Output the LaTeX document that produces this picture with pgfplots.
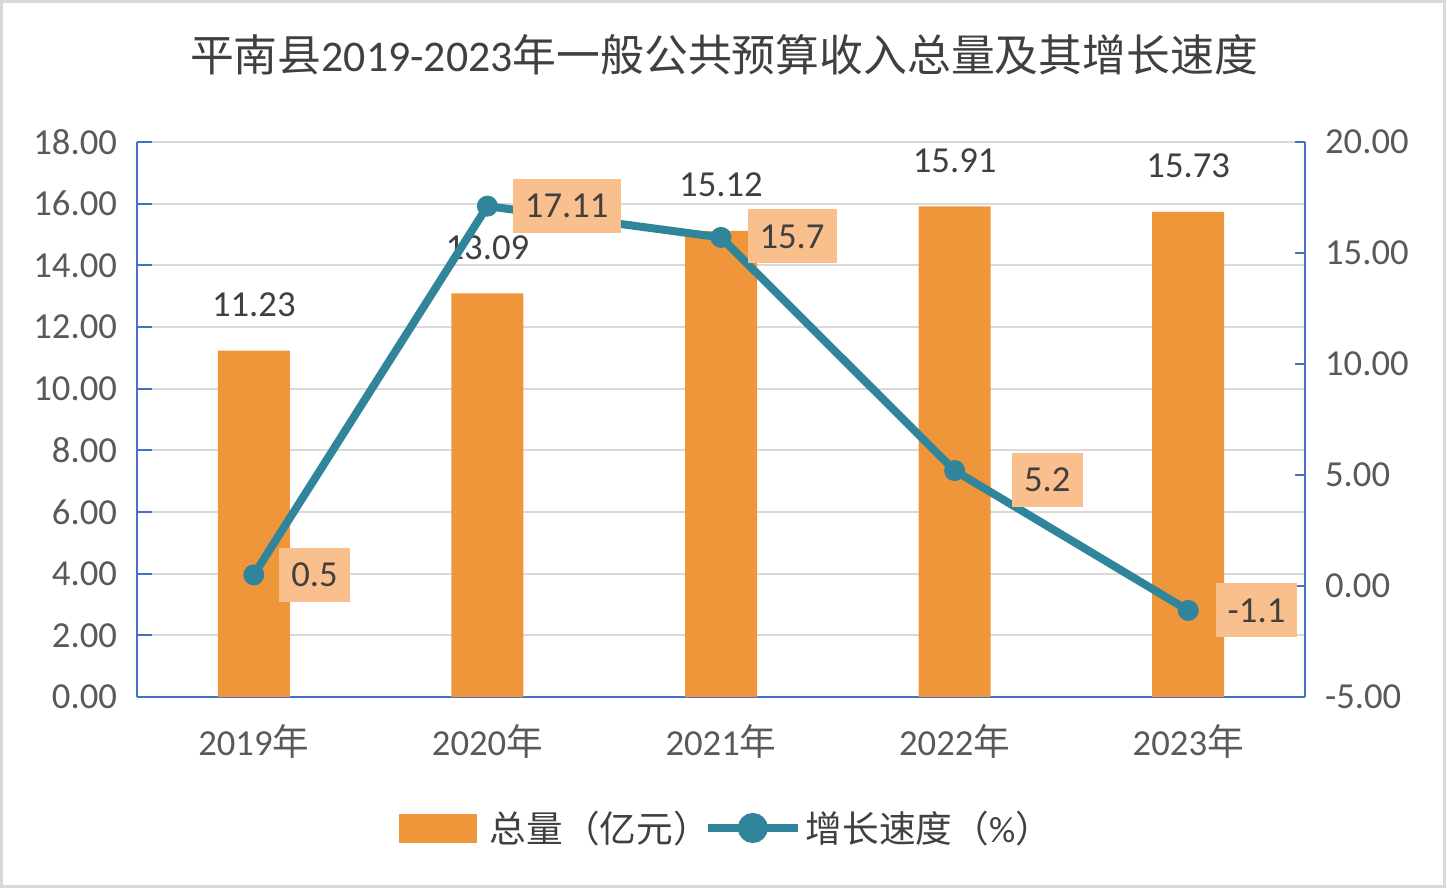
\documentclass[border=0pt]{standalone}
\usepackage{pgfplots}
\pgfplotsset{compat=1.18}
\usepackage{fontspec}
\setmainfont{Carlito}
\newfontfamily\cjk{Noto Sans CJK SC}
\definecolor{barorange}{RGB}{240,150,58}
\definecolor{lineteal}{RGB}{49,133,155}
\definecolor{labelfill}{RGB}{249,192,142}
\definecolor{axisblue}{RGB}{68,114,196}
\definecolor{gridgray}{RGB}{217,217,217}
\definecolor{darktext}{RGB}{64,64,64}
\definecolor{ticktext}{RGB}{89,89,89}
\begin{document}
\begin{tikzpicture}[x=0.5bp,y=0.5bp,font=\fontsize{18.4}{22}\selectfont]
\path[use as bounding box] (0,0) rectangle (1446,888);
\fill[white] (0,0) rectangle (1446,888);
\draw[gridgray,line width=1.5bp] (1.5,1.5) rectangle (1444.5,886.5);
\node[text=darktext,font=\fontsize{22}{26}\selectfont] at (724,833) {{\cjk 平南县}2019-2023{\cjk 年一般公共预算收入总量及其增长速度}};
\begin{axis}[
  at={(68.5bp,95.5bp)}, anchor=south west,
  width=584bp, height=277.5bp, scale only axis,
  xmin=-0.5, xmax=4.5, ymin=0, ymax=18,
  axis x line*=bottom, axis y line*=left,
  axis line style={-, draw=axisblue, line width=1bp},
  xtick={0,1,2,3,4},
  xticklabels={2019{\cjk 年},2020{\cjk 年},2021{\cjk 年},2022{\cjk 年},2023{\cjk 年}},
  xtick style={draw=none},
  extra x ticks={0.5,1.5,2.5,3.5},
  extra x tick labels={},
  extra x tick style={major tick length=6bp, tick style={draw=axisblue,line width=1bp}},
  ytick={0,2,...,18},
  yticklabels={0.00,2.00,4.00,6.00,8.00,10.00,12.00,14.00,16.00,18.00},
  tick align=inside,
  major tick length=7.5bp,
  ytick style={draw=axisblue,line width=1bp},
  ymajorgrids,
  major grid style={draw=gridgray,line width=1bp},
  xticklabel style={text=ticktext,yshift=-10.5bp},
  yticklabel style={text=ticktext,xshift=-6.5bp},
  /pgf/number format/assume math mode=true,
]
\addplot[ybar, bar width=36bp, fill=barorange, draw=none,
  nodes near coords,
  every node near coord/.append style={anchor=center, yshift=23bp, text=darktext}]
  coordinates {(0,11.23) (1,13.09) (2,15.12) (3,15.91) (4,15.73)};
\end{axis}
\begin{axis}[
  at={(68.5bp,95.5bp)}, anchor=south west,
  width=584bp, height=277.5bp, scale only axis,
  xmin=-0.5, xmax=4.5, ymin=-5, ymax=20,
  axis x line=none, axis y line*=right,
  axis line style={-, draw=axisblue, line width=1bp},
  ytick={-5,0,5,10,15,20},
  yticklabels={-5.00,0.00,5.00,10.00,15.00,20.00},
  tick align=inside,
  major tick length=5bp,
  ytick style={draw=axisblue,line width=1bp},
  yticklabel style={text=ticktext,xshift=6.5bp},
  /pgf/number format/assume math mode=true,
  legend columns=2,
  legend style={at={(0.5056,-0.236)}, anchor=center, draw=none, fill=none,
    text=darktext,
    /tikz/every even column/.append style={column sep=-5bp}},
]
\addlegendimage{area legend, legend image code/.code={\fill[barorange] (0bp,-7bp) rectangle (38.5bp,7bp); \path (43bp,0bp);}}
\addlegendentry{\cjk 总量（亿元）}
\addplot[lineteal, line width=4bp, mark=*, mark size=5bp,
  mark options={fill=lineteal, draw=lineteal, line width=0.5bp},
  legend image code/.code={\draw[lineteal,line width=4bp] (0bp,0bp) -- (45bp,0bp); \fill[lineteal] (22.5bp,0bp) circle (5.5bp);},
  visualization depends on={\thisrow{dx} \as \dx},
  visualization depends on={\thisrow{dy} \as \dy},
  nodes near coords,
  every node near coord/.append style={anchor=west, xshift=\dx bp, yshift=\dy bp, fill=labelfill,
    inner xsep=6bp, minimum height=27bp, text=darktext}]
  table[x=x,y=y] {
  x y dx dy
  0 0.5 12.5 0
  1 17.11 12.5 0
  2 15.7 13 0.5
  3 5.2 28.5 -4.75
  4 -1.1 13.5 0
  };
\addlegendentry{{\cjk 增长速度（}\%{\cjk ）}}
\end{axis}
\end{tikzpicture}
\end{document}
